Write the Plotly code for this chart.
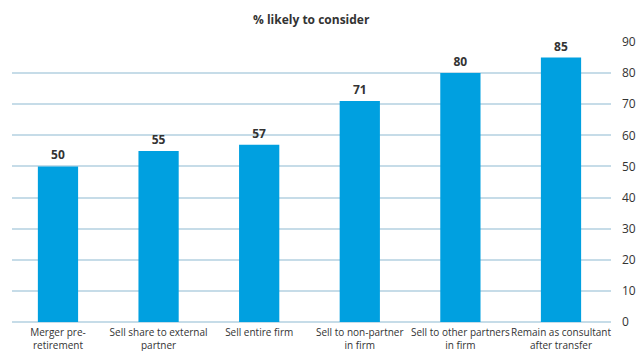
import plotly.graph_objects as go

categories = ["Merger pre-<br>retirement", "Sell share to external<br>partner", "Sell entire firm",
              "Sell to non-partner<br>in firm", "Sell to other partners<br>in firm", "Remain as consultant<br>after transfer"]
values = [50, 55, 57, 71, 80, 85]
y_ticks = [0, 10, 20, 30, 40, 50, 60, 70, 80, 90]

x = list(range(len(categories)))

fig = go.Figure(go.Bar(
    x=x, y=values, width=0.4,
    marker=dict(color="#00A0E0", line=dict(width=0)),
    text=[f"<b>{v}</b>" for v in values], textposition="outside",
    textfont=dict(size=12, color="#333333", family="Open Sans"),
    cliponaxis=False,
))

fig.update_layout(
    width=639, height=351,
    margin=dict(l=12, r=28, t=42, b=29, autoexpand=False),
    paper_bgcolor="white", plot_bgcolor="white",
    showlegend=False,
    font=dict(family="Open Sans", color="#333333"),
    annotations=[dict(text="<b>% likely to consider</b>", x=0.5, xref="paper", y=1.0, yref="paper",
                      yanchor="bottom", yshift=12,
                      showarrow=False, font=dict(size=12, color="#333333"))],
)

fig.update_xaxes(
    tickmode="array", tickvals=x, ticktext=categories,
    range=[-0.457, 5.497], showgrid=False, zeroline=False, showline=False,
    ticks="", tickfont=dict(size=10, color="#333333", family="Open Sans"),
    tickangle=0, automargin=False, ticklabelstandoff=3,
)
fig.update_yaxes(
    side="right", range=[0, 90], tickvals=y_ticks,
    showgrid=True, gridcolor="#C6DCE8", gridwidth=1.5,
    zeroline=True, zerolinecolor="#C6DCE8", zerolinewidth=1.5,
    showline=False, ticks="", ticklabelstandoff=10, automargin=False,
    tickfont=dict(size=12, color="#333333", family="Open Sans"),
)

fig.write_html("out.html")
